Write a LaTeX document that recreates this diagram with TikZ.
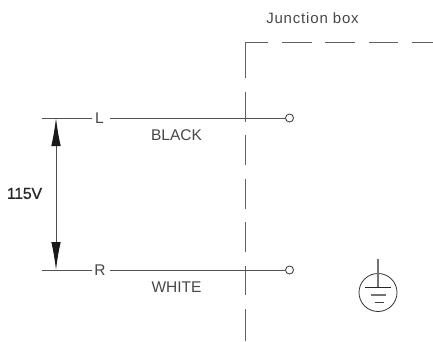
\documentclass[tikz,border=0pt]{standalone}
\usepackage{fontspec}
\setmainfont{Liberation Sans}
\newfontfamily\wide[LetterSpace=5.5]{Liberation Sans}
\newfontfamily\voltfont[FakeBold=0.5,LetterSpace=-2]{Liberation Sans}
\usetikzlibrary{arrows.meta}
\begin{document}
\begin{tikzpicture}[x=1pt,y=-1pt,
  wire/.style={draw=black!68,line width=0.9pt},
  lbl/.style={inner sep=0pt,text=black!72,font=\fontsize{15.5pt}{17pt}\selectfont},
  boxline/.style={draw=black!62,line width=0.9pt},
  term/.style={circle,draw=black!80,fill=white,line width=0.8pt,minimum size=8pt,inner sep=0pt},
  volt/.style={draw=black!70,line width=0.9pt,{Latex[length=28pt,width=9.5pt,black!90]}-{Latex[length=28pt,width=9.5pt,black!90]},shorten <=0pt,shorten >=0pt}]
\useasboundingbox (0,0) rectangle (433,342);
% junction box outline
\draw[boxline] (268,42) -- (245,42) -- (245,78);
\foreach \a/\b in {282/312,325/355,369/398,412/433}{\draw[boxline] (\a,42) -- (\b,42);}
\foreach \a/\b in {92/122,135/165,179/209,222/252,266/295,309/341}{\draw[boxline] (245,\a) -- (245,\b);}
\node[lbl,font=\wide\fontsize{15pt}{17pt}\selectfont] (jb) at (312.5,18.5) {Junction box};
% wires
\coordinate (lstart) at (42,118);
\coordinate (rstart) at (42,270);
\node[lbl] (L) at (99.5,118) {L};
\node[lbl] (R) at (100,270) {R};
\node[term] (lt) at (289.5,118) {};
\node[term] (rt) at (289.5,270) {};
\draw[wire] (lstart) -- (92,118);
\draw[wire] (110,118) -- (lt);
\draw[wire] (rstart) -- (92,270);
\draw[wire] (110,270) -- (rt);
\node[lbl] (blk) at (176.5,135.5) {BLACK};
\node[lbl] (wht) at (176.5,287.5) {WHITE};
% voltage
\coordinate (vt) at (56,118);
\coordinate (vb) at (56,270);
\draw[volt] (vt) -- (vb);
\node[lbl,text=black!85,font=\voltfont\fontsize{16pt}{17pt}\selectfont] (v) at (24.5,193.5) {115V};
% ground
\node[circle,draw=black!80,line width=0.8pt,minimum size=38pt,inner sep=0pt] (gnd) at (378,292.5) {};
\coordinate (gtop) at (378,259);
\coordinate (g1) at (378,287.5);
\draw[draw=black!55,line width=1.2pt] (gtop) -- (g1);
\draw[draw=black!85,line width=0.8pt] (365,287.5) -- (391,287.5);
\draw[draw=black!55,line width=1.1pt] (370.5,295) -- (386,295);
\draw[draw=black!75,line width=0.9pt] (374.5,302.5) -- (383.5,302.5);
\end{tikzpicture}
\end{document}
